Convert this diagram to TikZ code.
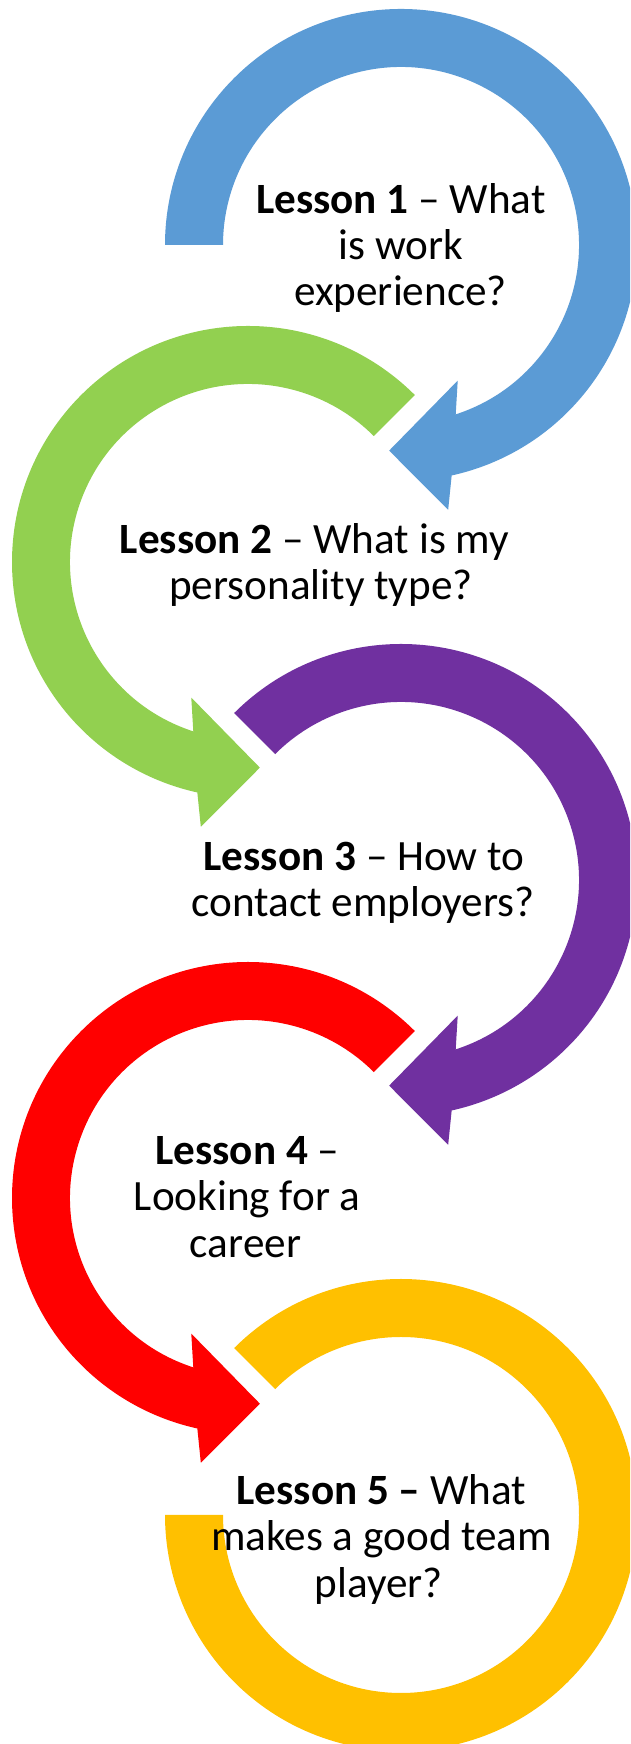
\documentclass[tikz,border=0pt]{standalone}
\usepackage{fontspec}
\newfontfamily\lessonfont{Carlito}
\definecolor{arrowblue}{HTML}{5B9BD5}
\definecolor{arrowgreen}{HTML}{92D050}
\definecolor{arrowpurple}{HTML}{7030A0}
\definecolor{arrowred}{HTML}{FF0000}
\definecolor{ringgold}{HTML}{FFC000}
\tikzset{
  lbl/.style={anchor=base, inner sep=0pt, text=black,
    font=\lessonfont\fontsize{43.2}{46}\selectfont},
  band/.style={draw=none},
}
% Curved arrow bending clockwise (right-hand circles)
\newcommand{\cwarrow}[3]{%
  \fill[band, #1, shift={#2}]
    (#3:236) arc[start angle=#3, end angle=-77.6, radius=236]
    -- (-79.9:269) -- (-93.3:206) -- (-67.3:147)
    -- (-72.1:178) arc[start angle=-72.1, end angle=#3, radius=178] -- cycle;}
% Curved arrow bending anticlockwise (left-hand circles)
\newcommand{\ccwarrow}[2]{%
  \fill[band, #1, shift={#2}]
    (45:236) arc[start angle=45, end angle=257.6, radius=236]
    -- (259.9:269) -- (273.3:206) -- (247.3:147)
    -- (252.1:178) arc[start angle=252.1, end angle=45, radius=178] -- cycle;}
\begin{document}
\begin{tikzpicture}[x=1pt, y=1pt]
  \useasboundingbox (0,0) rectangle (630,1744);
  \clip (0,0) rectangle (630,1744);
  \fill[white] (0,0) rectangle (630,1744);

  % circular arrows, top to bottom
  \cwarrow{arrowblue}{(401,1499)}{180}
  \ccwarrow{arrowgreen}{(248,1182)}
  \cwarrow{arrowpurple}{(401,864)}{135}
  \ccwarrow{arrowred}{(248,546)}
  % closing ring
  \fill[band, ringgold, shift={(401,229)}]
    (135:236) arc[start angle=135, end angle=-180, radius=236]
    -- (-180:178) arc[start angle=-180, end angle=135, radius=178] -- cycle;

  % lesson titles
  \node[lbl] (l1a) at (401,1530.7) {\textbf{Lesson 1} – What};
  \node[lbl] (l1b) at (401,1484.7) {is work};
  \node[lbl] (l1c) at (400.5,1438) {experience?};

  \node[lbl] (l2a) at (314.5,1190.7) {\textbf{Lesson 2} – What is my};
  \node[lbl] (l2b) at (321,1144.7) {personality type?};

  \node[lbl] (l3a) at (364,873.3) {\textbf{Lesson 3} – How to};
  \node[lbl] (l3b) at (363,827.3) {contact employers?};

  \node[lbl] (l4a) at (247.3,579.7) {\textbf{Lesson 4} –};
  \node[lbl] (l4b) at (247.3,533.3) {Looking for a};
  \node[lbl] (l4c) at (245.5,486.7) {career};

  \node[lbl] (l5a) at (381.3,239) {\textbf{Lesson 5 –} What};
  \node[lbl] (l5b) at (381.7,193.3) {makes a good team};
  \node[lbl] (l5c) at (378.7,146.7) {player?};
\end{tikzpicture}
\end{document}
